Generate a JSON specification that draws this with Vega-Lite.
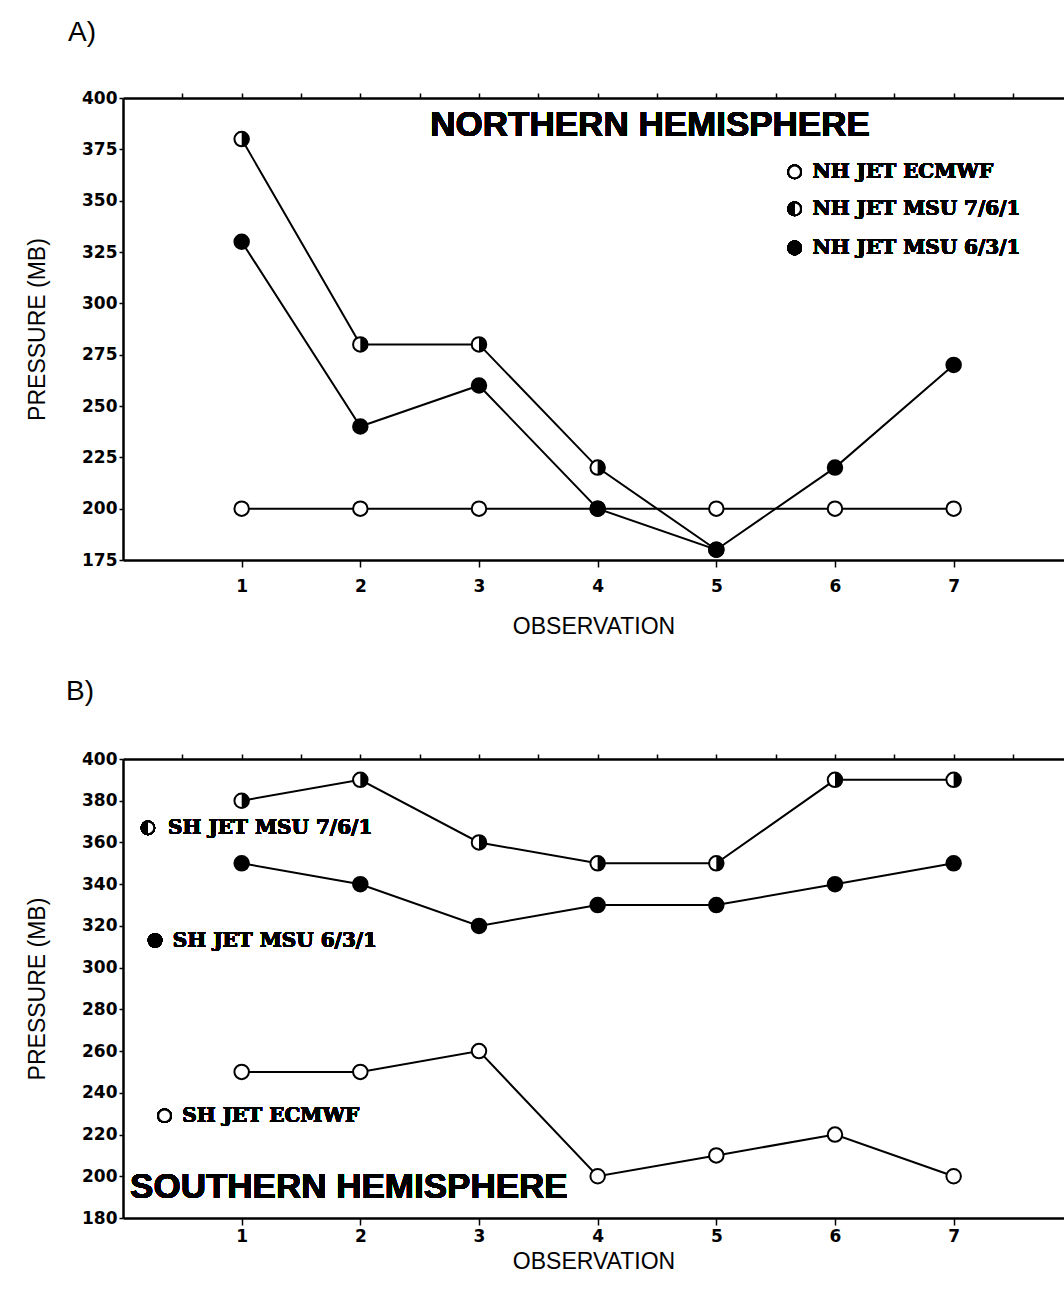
{
  "$schema": "https://vega.github.io/schema/vega-lite/v6.json",
  "background": "white",
  "padding": {"left": 26, "top": 19, "right": 0, "bottom": 0},
  "spacing": 40,
  "datasets": {
    "nh": [
      {"series": "ECMWF", "obs": 1, "p": 200},
      {"series": "ECMWF", "obs": 2, "p": 200},
      {"series": "ECMWF", "obs": 3, "p": 200},
      {"series": "ECMWF", "obs": 4, "p": 200},
      {"series": "ECMWF", "obs": 5, "p": 200},
      {"series": "ECMWF", "obs": 6, "p": 200},
      {"series": "ECMWF", "obs": 7, "p": 200},
      {"series": "MSU 7/6/1", "obs": 1, "p": 380},
      {"series": "MSU 7/6/1", "obs": 2, "p": 280},
      {"series": "MSU 7/6/1", "obs": 3, "p": 280},
      {"series": "MSU 7/6/1", "obs": 4, "p": 220},
      {"series": "MSU 7/6/1", "obs": 5, "p": 180},
      {"series": "MSU 6/3/1", "obs": 1, "p": 330},
      {"series": "MSU 6/3/1", "obs": 2, "p": 240},
      {"series": "MSU 6/3/1", "obs": 3, "p": 260},
      {"series": "MSU 6/3/1", "obs": 4, "p": 200},
      {"series": "MSU 6/3/1", "obs": 5, "p": 180},
      {"series": "MSU 6/3/1", "obs": 6, "p": 220},
      {"series": "MSU 6/3/1", "obs": 7, "p": 270}
    ],
    "sh": [
      {"series": "ECMWF", "obs": 1, "p": 250},
      {"series": "ECMWF", "obs": 2, "p": 250},
      {"series": "ECMWF", "obs": 3, "p": 260},
      {"series": "ECMWF", "obs": 4, "p": 200},
      {"series": "ECMWF", "obs": 5, "p": 210},
      {"series": "ECMWF", "obs": 6, "p": 220},
      {"series": "ECMWF", "obs": 7, "p": 200},
      {"series": "MSU 7/6/1", "obs": 1, "p": 380},
      {"series": "MSU 7/6/1", "obs": 2, "p": 390},
      {"series": "MSU 7/6/1", "obs": 3, "p": 360},
      {"series": "MSU 7/6/1", "obs": 4, "p": 350},
      {"series": "MSU 7/6/1", "obs": 5, "p": 350},
      {"series": "MSU 7/6/1", "obs": 6, "p": 390},
      {"series": "MSU 7/6/1", "obs": 7, "p": 390},
      {"series": "MSU 6/3/1", "obs": 1, "p": 350},
      {"series": "MSU 6/3/1", "obs": 2, "p": 340},
      {"series": "MSU 6/3/1", "obs": 3, "p": 320},
      {"series": "MSU 6/3/1", "obs": 4, "p": 330},
      {"series": "MSU 6/3/1", "obs": 5, "p": 330},
      {"series": "MSU 6/3/1", "obs": 6, "p": 340},
      {"series": "MSU 6/3/1", "obs": 7, "p": 350}
    ]
  },
  "config": {
    "view": {"stroke": null},
    "axis": {
      "grid": false,
      "domainColor": "black",
      "domainWidth": 2.5,
      "tickColor": "black",
      "tickWidth": 1.5,
      "labelFont": "DejaVu Sans",
      "labelFontWeight": "bold",
      "labelFontSize": 17,
      "labelColor": "black",
      "titleFont": "Liberation Sans",
      "titleFontWeight": "normal",
      "titleFontSize": 23,
      "titleColor": "black"
    },
    "title": {"font": "Liberation Sans", "fontSize": 28, "fontWeight": "normal", "anchor": "start", "color": "black", "frame": "group"}
  },
  "vconcat": [
    {
      "title": {"text": "A)", "dx": -55, "offset": 42},
      "width": 941,
      "height": 462,
      "data": {"name": "nh"},
      "resolve": {"axis": {"x": "independent"}},
      "layer": [
        {
          "mark": {"type": "line", "color": "black", "strokeWidth": 2},
          "encoding": {
            "x": {"field": "obs", "type": "quantitative", "scale": {"domain": [0, 7.93], "nice": false, "zero": false},
                  "axis": {"title": "OBSERVATION", "values": [1, 2, 3, 4, 5, 6, 7], "format": "d", "tickSize": 7, "labelPadding": 11, "titlePadding": 21}},
            "y": {"field": "p", "type": "quantitative", "scale": {"domain": [175, 400], "nice": false, "zero": false},
                  "axis": {"title": "PRESSURE (MB)", "values": [175, 187.5, 200, 212.5, 225, 237.5, 250, 262.5, 275, 287.5, 300, 312.5, 325, 337.5, 350, 362.5, 375, 387.5, 400], "labelExpr": "datum.value % 25 == 0 ? datum.label : ''", "tickSize": 4, "labelPadding": 2, "titlePadding": 32}},
            "detail": {"field": "series"},
            "order": {"field": "obs"}
          }
        },
        {
          "mark": {"type": "point", "opacity": 0},
          "encoding": {
            "x": {"field": "obs", "type": "quantitative", "axis": {"orient": "top", "title": null, "labels": false, "values": [0.5, 1, 1.5, 2, 2.5, 3, 3.5, 4, 4.5, 5, 5.5, 6, 6.5, 7, 7.5], "tickSize": 5}},
            "y": {"field": "p", "type": "quantitative"}
          }
        },
        {
          "mark": {"type": "point", "filled": true, "size": 210, "stroke": "black", "strokeWidth": 2, "opacity": 1, "shape": "circle"},
          "encoding": {
            "x": {"field": "obs", "type": "quantitative", "axis": null},
            "y": {"field": "p", "type": "quantitative"},
            "fill": {"field": "series", "type": "nominal", "scale": {"domain": ["ECMWF", "MSU 7/6/1", "MSU 6/3/1"], "range": ["white", "white", "black"]}, "legend": null}
          }
        },
        {
          "transform": [{"filter": "datum.series == 'MSU 7/6/1'"}],
          "mark": {"type": "point", "filled": true, "size": 210, "fill": "black", "strokeWidth": 0, "opacity": 1, "shape": "M0,-1A1,1 0 0,1 0,1Z"},
          "encoding": {
            "x": {"field": "obs", "type": "quantitative", "axis": null},
            "y": {"field": "p", "type": "quantitative"}
          }
        },
        {
          "mark": {"type": "text", "text": "NORTHERN HEMISPHERE", "font": "Liberation Sans", "fontWeight": "bold", "fontSize": 35, "align": "left", "baseline": "middle", "color": "black"},
          "encoding": {"x": {"datum": 2.59, "type": "quantitative", "axis": null}, "y": {"datum": 387, "type": "quantitative"}}
        },
        {
          "mark": {"type": "point", "filled": true, "size": 160, "fill": "white", "stroke": "black", "strokeWidth": 2, "opacity": 1, "shape": "circle"},
          "encoding": {"x": {"datum": 5.66, "type": "quantitative", "axis": null}, "y": {"datum": 364, "type": "quantitative"}}
        },
        {
          "mark": {"type": "point", "filled": true, "size": 160, "fill": "white", "stroke": "black", "strokeWidth": 2, "opacity": 1, "shape": "circle"},
          "encoding": {"x": {"datum": 5.66, "type": "quantitative", "axis": null}, "y": {"datum": 346, "type": "quantitative"}}
        },
        {
          "mark": {"type": "point", "filled": true, "size": 160, "fill": "black", "strokeWidth": 0, "opacity": 1, "shape": "M0,-1A1,1 0 0,0 0,1Z"},
          "encoding": {"x": {"datum": 5.66, "type": "quantitative", "axis": null}, "y": {"datum": 346, "type": "quantitative"}}
        },
        {
          "mark": {"type": "point", "filled": true, "size": 160, "fill": "black", "stroke": "black", "strokeWidth": 2, "opacity": 1, "shape": "circle"},
          "encoding": {"x": {"datum": 5.66, "type": "quantitative", "axis": null}, "y": {"datum": 327, "type": "quantitative"}}
        },
        {
          "mark": {"type": "text", "text": "NH JET ECMWF", "font": "DejaVu Serif", "fontWeight": "bold", "fontSize": 20, "align": "left", "baseline": "middle", "color": "black"},
          "encoding": {"x": {"datum": 5.81, "type": "quantitative", "axis": null}, "y": {"datum": 364, "type": "quantitative"}}
        },
        {
          "mark": {"type": "text", "text": "NH JET MSU 7/6/1", "font": "DejaVu Serif", "fontWeight": "bold", "fontSize": 20, "align": "left", "baseline": "middle", "color": "black"},
          "encoding": {"x": {"datum": 5.81, "type": "quantitative", "axis": null}, "y": {"datum": 346, "type": "quantitative"}}
        },
        {
          "mark": {"type": "text", "text": "NH JET MSU 6/3/1", "font": "DejaVu Serif", "fontWeight": "bold", "fontSize": 20, "align": "left", "baseline": "middle", "color": "black"},
          "encoding": {"x": {"datum": 5.81, "type": "quantitative", "axis": null}, "y": {"datum": 327, "type": "quantitative"}}
        }
      ]
    },
    {
      "title": {"text": "B)", "dx": -57, "offset": 44},
      "width": 941,
      "height": 459,
      "data": {"name": "sh"},
      "resolve": {"axis": {"x": "independent"}},
      "layer": [
        {
          "mark": {"type": "line", "color": "black", "strokeWidth": 2},
          "encoding": {
            "x": {"field": "obs", "type": "quantitative", "scale": {"domain": [0, 7.93], "nice": false, "zero": false},
                  "axis": {"title": "OBSERVATION", "values": [1, 2, 3, 4, 5, 6, 7], "format": "d", "tickSize": 7, "labelPadding": 3, "titlePadding": 6}},
            "y": {"field": "p", "type": "quantitative", "scale": {"domain": [180, 400], "nice": false, "zero": false},
                  "axis": {"title": "PRESSURE (MB)", "values": [180, 190, 200, 210, 220, 230, 240, 250, 260, 270, 280, 290, 300, 310, 320, 330, 340, 350, 360, 370, 380, 390, 400], "labelExpr": "datum.value % 20 == 0 ? datum.label : ''", "tickSize": 4, "labelPadding": 2, "titlePadding": 32}},
            "detail": {"field": "series"},
            "order": {"field": "obs"}
          }
        },
        {
          "mark": {"type": "point", "opacity": 0},
          "encoding": {
            "x": {"field": "obs", "type": "quantitative", "axis": {"orient": "top", "title": null, "labels": false, "values": [0.5, 1, 1.5, 2, 2.5, 3, 3.5, 4, 4.5, 5, 5.5, 6, 6.5, 7, 7.5], "tickSize": 5}},
            "y": {"field": "p", "type": "quantitative"}
          }
        },
        {
          "mark": {"type": "point", "filled": true, "size": 210, "stroke": "black", "strokeWidth": 2, "opacity": 1, "shape": "circle"},
          "encoding": {
            "x": {"field": "obs", "type": "quantitative", "axis": null},
            "y": {"field": "p", "type": "quantitative"},
            "fill": {"field": "series", "type": "nominal", "scale": {"domain": ["ECMWF", "MSU 7/6/1", "MSU 6/3/1"], "range": ["white", "white", "black"]}, "legend": null}
          }
        },
        {
          "transform": [{"filter": "datum.series == 'MSU 7/6/1'"}],
          "mark": {"type": "point", "filled": true, "size": 210, "fill": "black", "strokeWidth": 0, "opacity": 1, "shape": "M0,-1A1,1 0 0,1 0,1Z"},
          "encoding": {
            "x": {"field": "obs", "type": "quantitative", "axis": null},
            "y": {"field": "p", "type": "quantitative"}
          }
        },
        {
          "mark": {"type": "text", "text": "SOUTHERN HEMISPHERE", "font": "Liberation Sans", "fontWeight": "bold", "fontSize": 35, "align": "left", "baseline": "middle", "color": "black"},
          "encoding": {"x": {"datum": 0.06, "type": "quantitative", "axis": null}, "y": {"datum": 195, "type": "quantitative"}}
        },
        {
          "mark": {"type": "point", "filled": true, "size": 160, "fill": "white", "stroke": "black", "strokeWidth": 2, "opacity": 1, "shape": "circle"},
          "encoding": {"x": {"datum": 0.21, "type": "quantitative", "axis": null}, "y": {"datum": 367, "type": "quantitative"}}
        },
        {
          "mark": {"type": "point", "filled": true, "size": 160, "fill": "black", "strokeWidth": 0, "opacity": 1, "shape": "M0,-1A1,1 0 0,0 0,1Z"},
          "encoding": {"x": {"datum": 0.21, "type": "quantitative", "axis": null}, "y": {"datum": 367, "type": "quantitative"}}
        },
        {
          "mark": {"type": "point", "filled": true, "size": 160, "fill": "black", "stroke": "black", "strokeWidth": 2, "opacity": 1, "shape": "circle"},
          "encoding": {"x": {"datum": 0.27, "type": "quantitative", "axis": null}, "y": {"datum": 313, "type": "quantitative"}}
        },
        {
          "mark": {"type": "point", "filled": true, "size": 160, "fill": "white", "stroke": "black", "strokeWidth": 2, "opacity": 1, "shape": "circle"},
          "encoding": {"x": {"datum": 0.35, "type": "quantitative", "axis": null}, "y": {"datum": 229, "type": "quantitative"}}
        },
        {
          "mark": {"type": "text", "text": "SH JET MSU 7/6/1", "font": "DejaVu Serif", "fontWeight": "bold", "fontSize": 20, "align": "left", "baseline": "middle", "color": "black"},
          "encoding": {"x": {"datum": 0.38, "type": "quantitative", "axis": null}, "y": {"datum": 367, "type": "quantitative"}}
        },
        {
          "mark": {"type": "text", "text": "SH JET MSU 6/3/1", "font": "DejaVu Serif", "fontWeight": "bold", "fontSize": 20, "align": "left", "baseline": "middle", "color": "black"},
          "encoding": {"x": {"datum": 0.42, "type": "quantitative", "axis": null}, "y": {"datum": 313, "type": "quantitative"}}
        },
        {
          "mark": {"type": "text", "text": "SH JET ECMWF", "font": "DejaVu Serif", "fontWeight": "bold", "fontSize": 20, "align": "left", "baseline": "middle", "color": "black"},
          "encoding": {"x": {"datum": 0.5, "type": "quantitative", "axis": null}, "y": {"datum": 229, "type": "quantitative"}}
        }
      ]
    }
  ]
}
